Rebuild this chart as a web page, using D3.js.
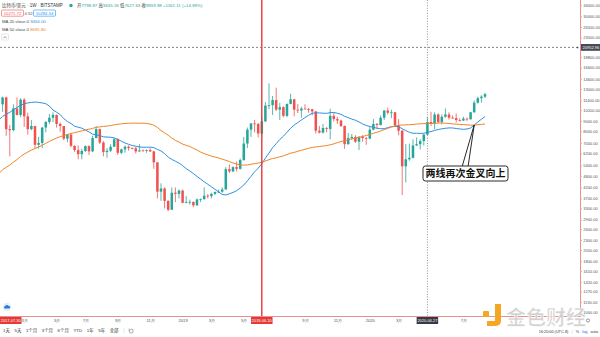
<!DOCTYPE html>
<html>
<head>
<meta charset="utf-8">
<script src="https://cdn.jsdelivr.net/npm/d3@7"></script>
<style>
  html, body { margin: 0; padding: 0; background: #fff; }
  svg { display: block; font-family: "Liberation Sans", "Noto Sans CJK SC", sans-serif; }
</style>
</head>
<body>
<svg id="chart" width="600" height="337"></svg>
<script>
// ---- BTC/USD weekly candles (Bitstamp), first bar = week of 2018-01-22 ----
const firstWeek = "2018-01-22";
const opens = [10900,11800,8200,8100,10400,9650,11500,9500,8200,8500,6850,7000,8350,8900,9350,9650,8700,8500,7350,7700,
  6770,6450,6150,6380,6750,6350,7400,8200,7030,6300,6400,6700,7300,6250,6500,6700,6600,6580,6350,6420,
  6400,6450,6350,5600,4000,4150,3600,3250,3950,3900,4050,3520,3550,3560,3420,3660,3670,3820,3800,3900,
  3990,4000,4100,5180,5050,5300,5200,5750,6950,8150,8750,8700,7798.87,8959.98,10750,10800,11450,10250,10550,9550,
  10950,11550,10250,10150,10380,10320,10300,10050,8050,7880,8300,8220,9550,9200,9050,8500,6900,7400,7500,7100,
  7510,7400,7350,8150,8700,8600,9350,10150,9900,9950,8550,8050,5350,5800,5900,6800,6900,7150,7700,8900,
  8750,9700,8900,9450,9700,9350,9300,9100,9050,9250,9180,9950,11100,11700,11900];
const highs = [11900,11900,8600,10900,11800,11700,11700,9900,9100,8500,7500,8400,9000,9750,9950,9700,8850,8500,7750,7800,
  6800,6800,6550,6800,6800,7600,8500,8250,7150,6600,6900,7400,7400,6550,6800,6800,6650,6700,6900,6500,
  6500,6600,6400,5600,4400,4200,3620,4200,4200,4100,4100,3800,3650,3560,3700,3700,4200,3900,3950,4000,
  4100,4200,5300,5470,5350,5650,5850,7500,8350,8800,9100,8800,9445.26,11200,13880,12000,13200,11100,10650,11000,
  12300,11600,10950,10600,10900,10450,10350,10100,8500,8700,8400,10350,9900,9450,9150,8550,7850,7750,7650,7550,
  7650,7500,8450,9200,8800,9600,10200,10500,10250,9990,9200,8150,6900,6950,7300,7450,7300,7750,9450,10000,
  9950,9850,9700,10400,9950,9600,9800,9300,9450,9350,10000,11400,11900,12100,12450];
const lows = [10000,7600,6000,8000,9600,9400,8400,7700,8100,6600,6550,6600,7900,8700,8900,8350,7950,7200,7050,6650,
  6300,5800,5800,6300,6100,6300,7400,6900,6000,5900,6300,6700,6100,6150,6250,6400,6500,6200,6300,6350,
  6250,6300,5200,3700,3600,3300,3200,3250,3550,3700,3500,3500,3450,3350,3400,3550,3650,3700,3700,3850,
  3950,3950,4100,4950,5000,5050,5150,5700,6600,7500,7900,7450,7627.63,8900,10300,9650,10100,9100,9400,9400,
  10900,9500,9850,9350,10300,9900,9600,7800,7800,7800,7900,7300,8950,8700,8400,6550,6850,7250,7000,6450,
  7100,6850,7300,8100,8250,8550,9100,9700,9300,8450,7650,3850,4450,5700,5850,6750,6500,6800,7650,8500,
  8200,8800,8650,9350,9150,9250,8850,8950,9000,9000,9150,9900,11000,11100,11700];
const closes = [11800,8200,8100,10400,9650,11500,9500,8200,8500,6850,7000,8350,8900,9350,9650,8700,8500,7350,7700,6770,
  6450,6150,6380,6750,6350,7400,8200,7030,6300,6400,6700,7300,6250,6500,6700,6600,6580,6350,6420,6400,
  6450,6350,5600,4000,4150,3600,3250,3950,3900,4050,3520,3550,3560,3420,3660,3670,3820,3800,3900,3990,
  4000,4100,5180,5050,5300,5200,5750,6950,8150,8750,8700,7798.87,8959.98,10750,10800,11450,10250,10550,9550,10950,
  11550,10250,10150,10380,10320,10300,10050,8050,7880,8300,8220,9550,9200,9050,8500,6900,7400,7500,7100,7510,
  7400,7350,8150,8700,8600,9350,10150,9900,9950,8550,8050,5350,5800,5900,6800,6900,7150,7700,8900,8750,
  9700,8900,9450,9700,9350,9300,9100,9050,9250,9180,9950,11100,11700,11900,12250];
// weekly closes before the first drawn bar (2017-01-30 .. 2018-01-15), feeding the moving averages
const priorCloses = [1020,1000,1050,1150,1270,1240,1030,960,1080,1180,1180,1230,1330,1540,1740,2050,2050,2500,2950,2500,
  2600,2450,2500,1950,2740,2750,3200,4050,4050,4350,4550,4250,3700,3600,4350,4600,5650,6000,5900,7350,
  5800,7900,9700,10900,15200,19000,13900,13800,16200,13600,10900];

// ---- axes ----
const priceTicks = [1000,1130,1270,1420,1610,1800,2050,2300,2600,2900,3300,3700,4200,4800,5400,6200,7000,8000,9000,
  10200,11400,13000,14600,16600,18800,21000,23500,26500,30000,34000];
const monthTickDates = ["2018-03-01","2018-05-01","2018-07-01","2018-09-01","2018-11-01","2019-01-01","2019-03-01",
  "2019-05-01","2019-07-01","2019-09-01","2019-11-01","2020-01-01","2020-03-01","2020-05-01","2020-07-01"];
const monthTickLabels = ["3月","5月","7月","9月","11月","2019","3月","5月","7月","9月","11月","2020","3月","5月","7月"];

// ---- overlays ----
const crosshairWeek = "2019-06-10";
const crosshairPrice = 20952.96;
const markerWeek = "2020-04-27";
const offscreenMarkerLabel = "2017-07-30";
const symbolTitle = "比特币/美元 · 1W · BITSTAMP";
const quoteBid = "10271.72", quoteSpread = "4.52", quoteAsk = "10284.34";
const maPeriods = [20, 50];
const rangeButtons = ["1天","5天","1个月","3个月","6个月","YTD","1年","5年","全部"];
const statusItems = ["16:20:00 (UTC-8)", "|", "%", "log", "auto"];
const annotationText = "两线再次金叉向上";

// ---- layout ----
const W = 600, H = 337, plotR = 580, plotB = 316;
const UP = "#26a69a", DOWN = "#ef5350", MA_COLORS = ["#2f8fe0", "#f08424"];
const WEEK = 7 * 864e5;
const t0 = Date.parse(firstWeek + "T00:00:00Z");
const bars = closes.map((c, i) => ({ i, o: opens[i], h: highs[i], l: lows[i], c, date: new Date(t0 + i * WEEK) }));
const idxOf = s => Math.round((Date.parse(s + "T00:00:00Z") - t0) / WEEK);

const x = d3.scaleLinear().domain([-0.72, 160.39]).range([0, plotR]);
const y = d3.scaleLog().domain([960, 36100]).range([plotB, 0]);

const svg = d3.select("#chart");
svg.append("rect").attr("width", W).attr("height", H).attr("fill", "#fff");
svg.append("defs").append("clipPath").attr("id", "plotClip")
  .append("rect").attr("width", plotR).attr("height", plotB);
const plot = svg.append("g").attr("clip-path", "url(#plotClip)");

// crosshair and marker lines
const crossI = idxOf(crosshairWeek), markI = idxOf(markerWeek);
plot.append("line").attr("x1", 0).attr("x2", plotR).attr("y1", y(crosshairPrice)).attr("y2", y(crosshairPrice))
  .attr("stroke", "#666").attr("stroke-dasharray", "2,2").attr("stroke-width", 0.8);
plot.append("line").attr("x1", x(markI)).attr("x2", x(markI)).attr("y1", 0).attr("y2", plotB)
  .attr("stroke", "#777").attr("stroke-dasharray", "1,1.6").attr("stroke-width", 0.8);

// candles
const bw = (x(1) - x(0)) * 0.7;
const candle = plot.append("g").selectAll("g").data(bars).join("g")
  .attr("fill", d => d.c >= d.o ? UP : DOWN).attr("stroke", d => d.c >= d.o ? UP : DOWN);
candle.append("line").attr("x1", d => x(d.i)).attr("x2", d => x(d.i))
  .attr("y1", d => y(d.h)).attr("y2", d => y(d.l)).attr("stroke-width", 0.8);
candle.append("rect").attr("x", d => x(d.i) - bw / 2).attr("width", bw)
  .attr("y", d => y(Math.max(d.o, d.c)))
  .attr("height", d => Math.max(0.8, Math.abs(y(d.o) - y(d.c)))).attr("stroke", "none");

// simple moving averages of the close
const allCloses = priorCloses.concat(closes);
const P = priorCloses.length;
function sma(n) {
  const out = [];
  for (let i = -1; i < closes.length; i++) {
    const end = P + i;
    out.push({ i, v: d3.mean(allCloses.slice(end - n + 1, end + 1)) });
  }
  return out;
}
const maSeries = maPeriods.map(sma);
const line = d3.line().x(d => x(d.i)).y(d => y(d.v));
maSeries.forEach((s, k) => plot.append("path").datum(s).attr("d", line)
  .attr("fill", "none").attr("stroke", MA_COLORS[k]).attr("stroke-width", 1));

// red crosshair line on the selected week
plot.append("line").attr("x1", x(crossI)).attr("x2", x(crossI)).attr("y1", 0).attr("y2", plotB)
  .attr("stroke", "#e53935").attr("stroke-width", 1.4);

// axis borders
svg.append("line").attr("x1", 0).attr("x2", plotR + 0.5).attr("y1", plotB + 0.5).attr("y2", plotB + 0.5)
  .attr("stroke", "#ee8f8f").attr("stroke-width", 1);
svg.append("line").attr("x1", plotR + 0.5).attr("x2", plotR + 0.5).attr("y1", 0).attr("y2", plotB + 0.5)
  .attr("stroke", "#ee8f8f").attr("stroke-width", 1);

// price axis (log)
const crossY = y(crosshairPrice);
const yAxis = d3.axisRight(y).tickValues(priceTicks.filter(v => Math.abs(y(v) - crossY) > 6))
  .tickFormat(d3.format(".2f")).tickSize(1.5).tickPadding(1.2);
const yg = svg.append("g").attr("transform", `translate(${plotR + 0.5},0)`).call(yAxis);
yg.select(".domain").remove();
yg.selectAll("line").attr("stroke", "#bbb");
yg.selectAll("text").attr("font-size", 4).attr("fill", "#555").attr("font-family", "Liberation Sans, sans-serif");

// crosshair price label
svg.append("text").attr("x", plotR - 4).attr("y", crossY + 1.6).attr("font-size", 5).attr("fill", "#444").text("+");
svg.append("rect").attr("x", plotR + 1).attr("y", crossY - 3.4).attr("width", W - plotR - 1).attr("height", 6.8)
  .attr("fill", "#454a55");
svg.append("text").attr("x", plotR + 2.5).attr("y", crossY + 1.4).attr("font-size", 4).attr("fill", "#fff")
  .text(d3.format(".2f")(crosshairPrice));

// time axis
const boxCenters = [x(crossI), x(markI)];
const monthTicks = monthTickDates.map((s, k) => {
  const m = Date.parse(s + "T00:00:00Z");
  const i = bars.findIndex(b => +b.date >= m);
  return { i, label: monthTickLabels[k] };
}).filter(t => t.i >= 0 && boxCenters.every(c => Math.abs(x(t.i) - c) > 15));
const xg = svg.append("g").attr("transform", `translate(0,${plotB + 0.5})`)
  .call(d3.axisBottom(x).tickValues(monthTicks.map(t => t.i))
    .tickFormat((d, k) => monthTicks[k].label).tickSize(0).tickPadding(3));
xg.select(".domain").remove();
xg.selectAll("text").attr("font-size", 4.2).attr("fill", "#555");

const fmtDate = d3.utcFormat("%Y-%m-%d");
function dateBox(cx, label, fill) {
  const w = 21.5;
  const x0 = Math.max(0, cx - w / 2);
  svg.append("rect").attr("x", x0).attr("y", plotB + 1).attr("width", w).attr("height", 7).attr("fill", fill);
  svg.append("text").attr("x", x0 + w / 2).attr("y", plotB + 6.2).attr("text-anchor", "middle")
    .attr("font-size", 3.9).attr("fill", "#fff").text(label);
}
dateBox(x(crossI), fmtDate(bars[crossI].date), "#e53935");
dateBox(x(markI), fmtDate(bars[markI].date), "#363a45");
dateBox(0, offscreenMarkerLabel, "#e53935");

// legend / header
const cb = bars[crossI], prevC = bars[crossI - 1].c;
const f2 = d3.format(".2f");
const head = svg.append("text").attr("x", 2).attr("y", 7).attr("font-size", 4.5).attr("fill", "#333");
head.append("tspan").text(symbolTitle);
svg.append("circle").attr("cx", 71).attr("cy", 5.5).attr("r", 1.7).attr("fill", UP);
const ohlc = svg.append("text").attr("x", 77).attr("y", 7).attr("font-size", 4.4).attr("fill", "#333");
const valColor = cb.c >= cb.o ? UP : DOWN;
[["开", cb.o], ["高", cb.h], ["低", cb.l], ["收", cb.c]].forEach(([k, v], j) => {
  ohlc.append("tspan").text((j ? " " : "") + k);
  ohlc.append("tspan").attr("fill", valColor).text(f2(v));
});
ohlc.append("tspan").attr("fill", valColor)
  .text(` ${d3.format("+.2f")(cb.c - prevC)} (${d3.format("+.2%")((cb.c - prevC) / prevC)})`);

// bid / ask row
svg.append("rect").attr("x", 1.5).attr("y", 10).attr("width", 22).attr("height", 6.2).attr("rx", 1)
  .attr("fill", "#fff").attr("stroke", DOWN).attr("stroke-width", 0.6);
svg.append("text").attr("x", 12.5).attr("y", 14.6).attr("text-anchor", "middle").attr("font-size", 4.2).attr("fill", DOWN).text(quoteBid);
svg.append("text").attr("x", 28.5).attr("y", 14.6).attr("text-anchor", "middle").attr("font-size", 4.2).attr("fill", "#555").text(quoteSpread);
svg.append("rect").attr("x", 33.5).attr("y", 10).attr("width", 22).attr("height", 6.2).attr("rx", 1)
  .attr("fill", "#fff").attr("stroke", "#2196f3").attr("stroke-width", 0.6);
svg.append("text").attr("x", 44.5).attr("y", 14.6).attr("text-anchor", "middle").attr("font-size", 4.2).attr("fill", "#2196f3").text(quoteAsk);

// MA legend rows (values at the latest bar)
maPeriods.forEach((n, k) => {
  const t = svg.append("text").attr("x", 2).attr("y", 23 + k * 8).attr("font-size", 4.3).attr("fill", "#444");
  t.append("tspan").text(`MA ${n} close 0 `);
  t.append("tspan").attr("fill", MA_COLORS[k]).text(" " + f2(maSeries[k][maSeries[k].length - 1].v));
});
svg.append("rect").attr("x", 1.5).attr("y", 34).attr("width", 7).attr("height", 6).attr("rx", 1)
  .attr("fill", "#fff").attr("stroke", "#ccc").attr("stroke-width", 0.5);
svg.append("path").attr("d", "M3.5,38.2 L5,36.6 L6.5,38.2").attr("fill", "none").attr("stroke", "#555").attr("stroke-width", 0.6);

// golden-cross callout pointing at the latest MA20/MA50 crossover
const [fast, slow] = maSeries;
let crossK = -1;
for (let k = 1; k < fast.length; k++) if (fast[k - 1].v <= slow[k - 1].v && fast[k].v > slow[k].v) crossK = k;
const px = x(fast[crossK].i), py = y(fast[crossK].v);
const box = { x: 423, y: 166, w: 85, h: 15 };
svg.append("path").attr("d", `M${box.x + 39},${box.y + 1} L${px},${py} L${box.x + 45},${box.y + 1}`)
  .attr("fill", "#fff").attr("stroke", "#111").attr("stroke-width", 0.9).attr("stroke-linejoin", "round");
svg.append("rect").attr("x", box.x).attr("y", box.y).attr("width", box.w).attr("height", box.h).attr("rx", 2.5)
  .attr("fill", "#fff").attr("stroke", "#111").attr("stroke-width", 0.9);
svg.append("text").attr("x", box.x + box.w / 2).attr("y", box.y + 11.4).attr("text-anchor", "middle")
  .attr("font-size", 10).attr("font-weight", "bold").attr("font-family", "Noto Sans CJK SC, sans-serif")
  .attr("fill", "#111").text(annotationText);

// small cloud badge at lower left
svg.append("circle").attr("cx", 7).attr("cy", 307).attr("r", 4.2).attr("fill", "#e3eefa");
svg.append("path").attr("d", "M4.6,308.6 a1.3,1.3 0 0 1 0.6,-2.4 a1.8,1.8 0 0 1 3.4,-0.2 a1.3,1.3 0 0 1 0.6,2.6 z")
  .attr("fill", "#2a7bd4");

// bottom toolbar
let bx = 3;
const tb = svg.append("g").attr("font-size", 4.4).attr("fill", "#333");
rangeButtons.forEach(s => {
  const t = tb.append("text").attr("x", bx).attr("y", 332).text(s);
  bx += t.node().getComputedTextLength() + 4.6;
});
svg.append("line").attr("x1", bx + 1).attr("x2", bx + 1).attr("y1", 328).attr("y2", 333).attr("stroke", "#ccc").attr("stroke-width", 0.5);
svg.append("path").attr("d", `M${bx + 8},329 a2,2 0 1 1 -1.8,1.2 M${bx + 6},328.6 l0.4,1.6 l1.5,-0.5`)
  .attr("fill", "none").attr("stroke", "#555").attr("stroke-width", 0.5);

// watermark
const wm = svg.append("g");
wm.append("rect").attr("x", 483).attr("y", 311).attr("width", 6).attr("height", 6).attr("rx", 1).attr("fill", "#f5a623");
wm.append("path").attr("d", "M495,304 h6 v17 a5,5 0 0 1 -5,5 h-9 v-5 h8 z").attr("fill", "#f5a623");
wm.append("text").attr("x", 506).attr("y", 325).attr("font-size", 20).attr("font-weight", "bold")
  .attr("font-family", "Noto Sans CJK SC, sans-serif").attr("fill", "#cdcdcd").attr("opacity", 0.9)
  .attr("stroke", "#fff").attr("stroke-width", 0.6).text("金色财经");

// status bar, laid out right to left
const rt = svg.append("g").attr("font-size", 3.8).attr("fill", "#333");
let rx = 598;
statusItems.slice().reverse().forEach(s => {
  const t = rt.append("text").attr("x", rx).attr("y", 332.5).attr("text-anchor", "end")
    .attr("fill", s === "log" ? "#2962ff" : (s === "|" ? "#bbb" : "#333")).text(s);
  rx -= t.node().getComputedTextLength() + 3.2;
});
svg.append("circle").attr("cx", 588).attr("cy", 320.5).attr("r", 1.6).attr("fill", "none").attr("stroke", "#555").attr("stroke-width", 0.6);
</script>
</body>
</html>
